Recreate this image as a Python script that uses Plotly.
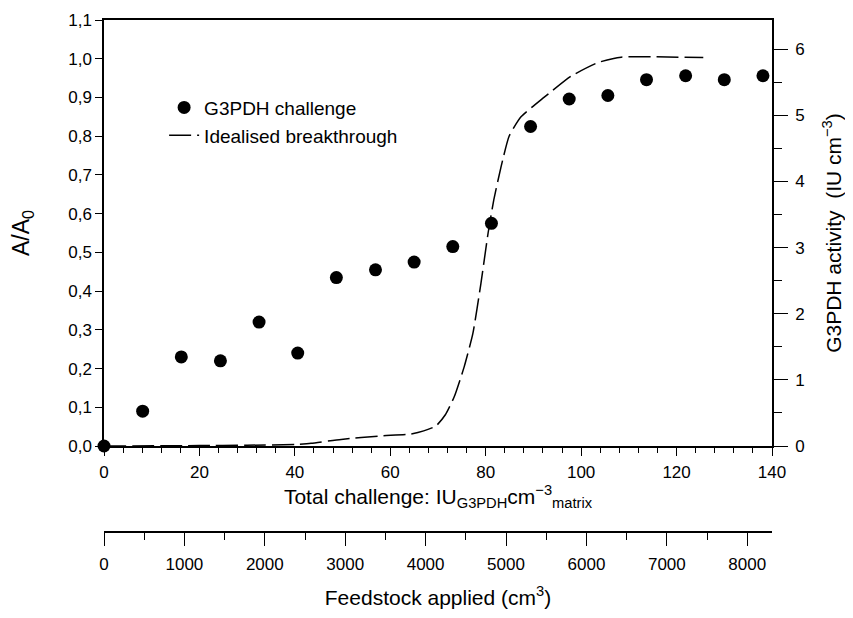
import plotly.graph_objects as go

# Data
challenge_x = [0, 8.1, 16.2, 24.4, 32.5, 40.6, 48.7, 56.9, 65.0, 73.1, 81.2,
               89.4, 97.5, 105.6, 113.7, 121.9, 130.0, 138.1]
a_over_a0 = [0.0, 0.09, 0.23, 0.22, 0.32, 0.24, 0.435, 0.455, 0.475, 0.515, 0.575,
             0.825, 0.896, 0.905, 0.946, 0.956, 0.946, 0.956]

curve_x = [0, 20, 30, 40, 43.4, 49.7, 58.1, 64.3, 67.0, 69.6, 71.5, 73.4, 75.5,
           77.3, 79.0, 80.5, 81.7, 83.2, 84.9, 87.4, 92.2, 97.9, 103.5, 108.4,
           115.3, 125.6]
curve_y = [0, 0.001, 0.002, 0.004, 0.007, 0.017, 0.026, 0.031, 0.039, 0.052, 0.08,
           0.127, 0.205, 0.29, 0.42, 0.55, 0.636, 0.72, 0.80, 0.85, 0.90, 0.955,
           0.99, 1.004, 1.005, 1.003]

x_range = [0, 140]
y_range = [0, 1.1]
y2_range = [0, 6.44]
x2_range = [0, 8308]

FONT = "Liberation Sans, Arial, Helvetica, sans-serif"
TICK = 17
TITLE = 21

fig = go.Figure()
fig.add_trace(go.Scatter(
    x=challenge_x, y=a_over_a0, mode="markers", name="G3PDH challenge",
    marker=dict(color="black", size=13), cliponaxis=False))
fig.add_trace(go.Scatter(
    x=curve_x, y=curve_y, mode="lines", name="Idealised breakthrough",
    line=dict(color="black", width=1.5, dash="22px,6px", shape="spline", smoothing=0.5)))
# invisible helper trace to activate secondary axes
fig.add_trace(go.Scatter(x=[None], y=[None], xaxis="x2", yaxis="y2",
                         showlegend=False, hoverinfo="skip"))

dom_low = (532 - 446) / 512

axis_common = dict(showgrid=False, zeroline=False, showline=True, linecolor="black",
                   linewidth=1.5, ticks="outside", tickcolor="black", tickwidth=1.2,
                   automargin=False,
                   tickfont=dict(family=FONT, size=TICK, color="black"))

fig.update_layout(
    width=853, height=618,
    margin=dict(l=96, r=89, t=12, b=94),
    paper_bgcolor="white", plot_bgcolor="white",
    separators=",.",
    font=dict(family=FONT, color="black"),
    xaxis=dict(range=x_range, dtick=20, ticklen=8, mirror=True, ticklabelstandoff=2,
               minor=dict(dtick=4, ticklen=5, ticks="outside", tickcolor="black"),
               title=dict(text="Total challenge: IU<sub>G3PDH</sub>cm<sup>\u22123</sup><sub>matrix</sub>",
                          font=dict(family=FONT, size=TITLE), standoff=7),
               anchor="y", **axis_common),
    yaxis=dict(range=y_range, dtick=0.1, tickformat=".1f", ticklen=7, domain=[dom_low, 1],
               title=dict(text="A/A<sub>0</sub>", font=dict(family=FONT, size=23), standoff=32),
               **axis_common),
    yaxis2=dict(range=y2_range, dtick=1, ticklen=14, overlaying="y", side="right",
                anchor="x", ticklabelstandoff=4,
                minor=dict(dtick=0.5, ticklen=8, ticks="outside", tickcolor="black"),
                title=dict(text="G3PDH activity  (IU cm<sup>\u22123</sup>)",
                           font=dict(family=FONT, size=TITLE), standoff=23),
                **axis_common),
    xaxis2=dict(range=x2_range, dtick=1000, ticklen=13, overlaying="x", anchor="free",
                position=0, side="bottom", tickformat="d", ticklabelstandoff=4,
                minor=dict(dtick=500, ticklen=7, ticks="outside", tickcolor="black"),
                title=dict(text="Feedstock applied (cm<sup>3</sup>)",
                           font=dict(family=FONT, size=TITLE), standoff=16),
                **axis_common),
    legend=dict(x=0.09, y=0.866, xanchor="left", yanchor="top",
                font=dict(family=FONT, size=19, color="black"),
                bgcolor="rgba(0,0,0,0)", tracegroupgap=0),
    showlegend=True,
)

fig.write_html("out.html")
